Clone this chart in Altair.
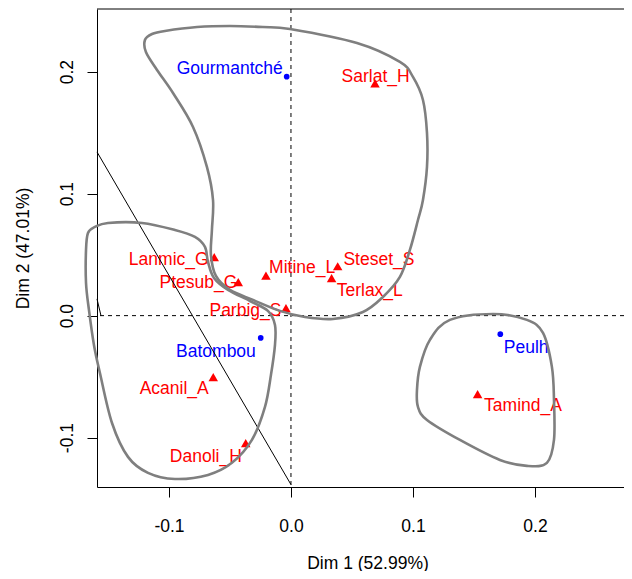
import altair as alt
import pandas as pd

# ---- ethnic groups (blue points) ----
grp_names = ["Gourmantché", "Batombou", "Peulh"]
grp_x = [-0.0035, -0.0248, 0.1716]
grp_y = [0.1959, -0.0183, -0.0152]
grp_lab_x = [-0.0502, -0.0615, 0.1928]
grp_lab_y = [0.1981, -0.0341, -0.0308]

# ---- species (red triangles) ----
sp_names = ["Sarlat_H", "Lanmic_G", "Ptesub_G", "Parbig_S", "Mitine_L",
            "Steset_S", "Terlax_L", "Acanil_A", "Danoli_H", "Tamind_A"]
sp_x = [0.0689, -0.0629, -0.0432, -0.0041, -0.0205, 0.0383, 0.0333, -0.0637, -0.0371, 0.1530]
sp_y = [0.1905, 0.0479, 0.0274, 0.0061, 0.0328, 0.0405, 0.0307, -0.0505, -0.1046, -0.0644]
sp_lab_x = [0.0694, -0.1002, -0.0758, -0.0373, 0.0092, 0.0721, 0.0646, -0.0957, -0.0698, 0.1902]
sp_lab_y = [0.1918, 0.0416, 0.0225, -0.0002, 0.0348, 0.0416, 0.0161, -0.0644, -0.1197, -0.0781]

# ---- hull outlines (closed curves) ----
hull1_x = [-0.1197, -0.1139, -0.1033, -0.0770, -0.0500, -0.0230, -0.0008, 0.0541, 0.0893, 0.1000,
           0.1082, 0.1115, 0.1115, 0.1082, 0.1041, 0.0975, 0.0893, 0.0754, 0.0590, 0.0344,
           0.0115, -0.0090, -0.0311, -0.0500, -0.0615, -0.0656, -0.0648, -0.0639, -0.0689, -0.0803,
           -0.0967, -0.1098, -0.1189]
hull1_y = [0.2260, 0.2309, 0.2334, 0.2366, 0.2375, 0.2366, 0.2350, 0.2235, 0.2080, 0.1957,
           0.1768, 0.1498, 0.1219, 0.0948, 0.0784, 0.0539, 0.0317, 0.0153, 0.0030, -0.0027,
           -0.0011, 0.0039, 0.0129, 0.0211, 0.0325, 0.0498, 0.0702, 0.0948, 0.1219, 0.1547,
           0.1825, 0.2014, 0.2161]

hull2_x = [-0.1664, -0.1607, -0.1500, -0.1221, -0.0951, -0.0787, -0.0705, -0.0680, -0.0631, -0.0516,
           -0.0336, -0.0189, -0.0131, -0.0131, -0.0164, -0.0213, -0.0320, -0.0484, -0.0680, -0.0951,
           -0.1172, -0.1336, -0.1467, -0.1566, -0.1615, -0.1656, -0.1680, -0.1680]
hull2_y = [0.0678, 0.0727, 0.0760, 0.0760, 0.0702, 0.0645, 0.0563, 0.0440, 0.0309, 0.0211,
           0.0120, 0.0039, -0.0076, -0.0240, -0.0486, -0.0748, -0.1019, -0.1207, -0.1306, -0.1339,
           -0.1289, -0.1158, -0.0880, -0.0470, -0.0240, 0.0047, 0.0268, 0.0539]

hull3_x = [0.1033, 0.1057, 0.1139, 0.1303, 0.1656, 0.1934, 0.2066, 0.2139, 0.2156, 0.2156,
           0.2098, 0.1934, 0.1713, 0.1385, 0.1115, 0.1041]
hull3_y = [-0.0609, -0.0420, -0.0199, -0.0035, 0.0014, -0.0035, -0.0142, -0.0420, -0.0691, -0.1019,
           -0.1207, -0.1232, -0.1183, -0.1019, -0.0855, -0.0748]

# ---- black segments ----
seg_x = [-0.1590, -0.1590]
seg_y = [0.1342, 0.0137]
seg_x2 = [0.0, -0.1557]
seg_y2 = [-0.1385, -0.0002]

x_ticks = [-0.1, 0.0, 0.1, 0.2]
y_ticks = [-0.1, 0.0, 0.1, 0.2]
x_title = "Dim 1 (52.99%)"
y_title = "Dim 2 (47.01%)"

X_MIN, X_MAX = -0.159, 0.2730
Y_MIN, Y_MAX = -0.1405, 0.2514

FONT = "Liberation Sans"
FS = 17.5
W, H = 527, 478

grp_df = pd.DataFrame({"name": grp_names, "x": grp_x, "y": grp_y, "lx": grp_lab_x, "ly": grp_lab_y})
sp_df = pd.DataFrame({"name": sp_names, "x": sp_x, "y": sp_y, "lx": sp_lab_x, "ly": sp_lab_y})
hull_rows = []
for gi, (hx, hy) in enumerate([(hull1_x, hull1_y), (hull2_x, hull2_y), (hull3_x, hull3_y)]):
    for i, (a, b) in enumerate(zip(hx, hy)):
        hull_rows.append({"g": gi, "i": i, "x": a, "y": b})
hull_df = pd.DataFrame(hull_rows)
seg_df = pd.DataFrame({"x": seg_x, "y": seg_y, "x2": seg_x2, "y2": seg_y2})
zero_df = pd.DataFrame({"v": [0.0]})
top_df = pd.DataFrame({"v": [Y_MAX]})

lab_expr = "datum.value < 0 ? '-' + format(-datum.value, '.1f') : format(datum.value, '.1f')"

xscale = alt.Scale(domain=[X_MIN, X_MAX], nice=False, zero=False)
yscale = alt.Scale(domain=[Y_MIN, Y_MAX], nice=False, zero=False)

xaxis = alt.Axis(values=x_ticks, labelExpr=lab_expr, grid=False, tickSize=10, tickColor="black",
                 domainColor="black", labelColor="black", labelFont=FONT, labelFontSize=FS,
                 labelBaseline="alphabetic", labelPadding=34, labelAlign="center",
                 title=x_title, titleFont=FONT, titleFontSize=FS, titleFontWeight="normal",
                 titleColor="black", titleX=270.5, titleY=81, titleBaseline="alphabetic",
                 titleAlign="center", labelFlush=False)
yaxis = alt.Axis(values=y_ticks, labelExpr=lab_expr, grid=False, tickSize=10, tickColor="black",
                 domainColor="black", labelColor="black", labelFont=FONT, labelFontSize=FS,
                 labelAngle=270, labelAlign="center", labelBaseline="alphabetic", labelPadding=15,
                 title=y_title, titleFont=FONT, titleFontSize=FS, titleFontWeight="normal",
                 titleColor="black", titleAngle=270, titleX=-68.5, titleY=239,
                 titleBaseline="alphabetic", titleAlign="center", labelFlush=False)

X = lambda f: alt.X(f, type="quantitative", scale=xscale, axis=xaxis)
Y = lambda f: alt.Y(f, type="quantitative", scale=yscale, axis=yaxis)

vline = alt.Chart(zero_df).mark_rule(color="black", strokeWidth=1, strokeDash=[4, 4]).encode(x=X("v"))
hline = alt.Chart(zero_df).mark_rule(color="black", strokeWidth=1, strokeDash=[4, 4]).encode(y=Y("v"))
topline = alt.Chart(top_df).mark_rule(color="black", strokeWidth=1).encode(y=Y("v"))

segs = alt.Chart(seg_df).mark_rule(color="black", strokeWidth=1).encode(
    x=X("x"), y=Y("y"), x2="x2", y2="y2")

hulls = alt.Chart(hull_df).mark_line(color="#7F7F7F", strokeWidth=2.6, interpolate="cardinal-closed").encode(
    x=X("x"), y=Y("y"), detail="g:N", order="i:Q")

grp_pts = alt.Chart(grp_df).mark_circle(color="#0000FF", opacity=1, size=32).encode(x=X("x"), y=Y("y"))
sp_pts = alt.Chart(sp_df).mark_point(shape="triangle-up", filled=True, color="#FF0000", opacity=1,
                                     size=90).encode(x=X("x"), y=Y("y"))

grp_txt = alt.Chart(grp_df).mark_text(color="#0000FF", font=FONT, fontSize=FS, align="center",
                                      baseline="alphabetic").encode(x=X("lx"), y=Y("ly"), text="name:N")
sp_txt = alt.Chart(sp_df).mark_text(color="#FF0000", font=FONT, fontSize=FS, align="center",
                                    baseline="alphabetic").encode(x=X("lx"), y=Y("ly"), text="name:N")

chart = alt.layer(topline, vline, hline, grp_pts, sp_pts, grp_txt, sp_txt, segs, hulls).properties(
    width=W, height=H,
    padding={"left": 89, "top": 1, "right": 0, "bottom": 84},
    autosize=alt.AutoSizeParams(type="none"),
    background="white",
).configure_view(stroke=None)

chart.save("out.html", embed_options={"renderer": "svg", "actions": False})
